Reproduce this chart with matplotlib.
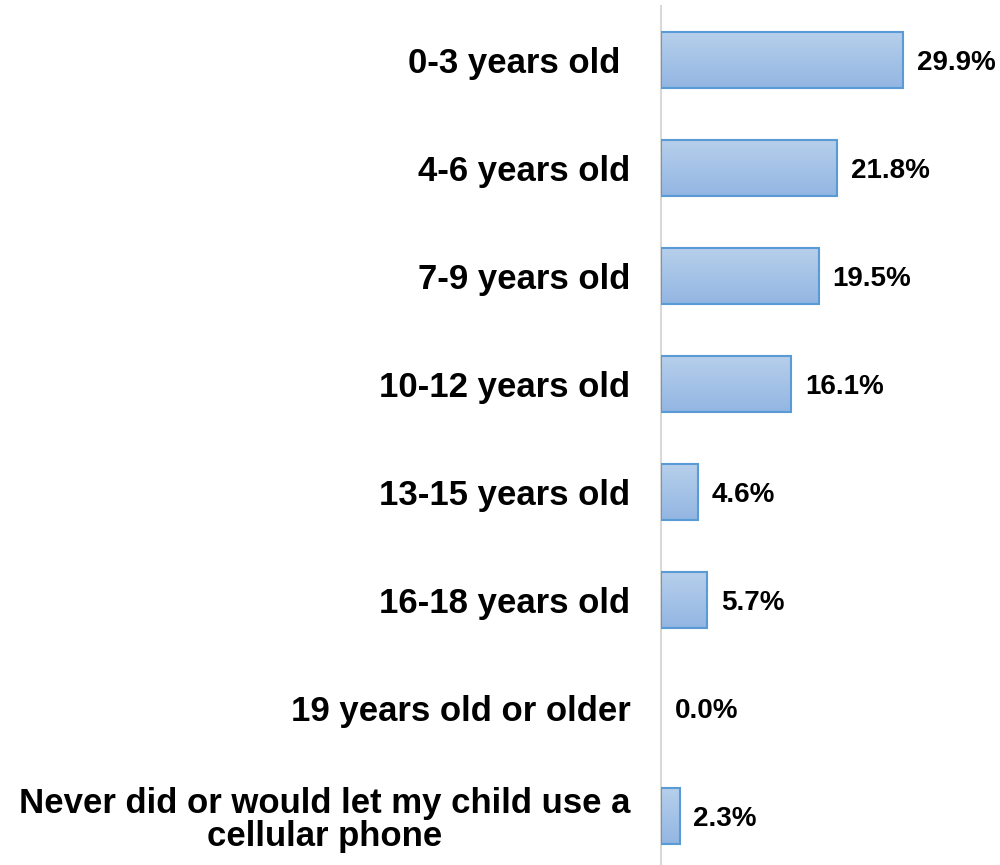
import numpy as np
import matplotlib.pyplot as plt
from matplotlib.colors import LinearSegmentedColormap

plt.rcParams['font.family'] = ['Liberation Sans', 'DejaVu Sans']

categories = [
    "0-3 years old ",
    "4-6 years old",
    "7-9 years old",
    "10-12 years old",
    "13-15 years old",
    "16-18 years old",
    "19 years old or older",
    "Never did or would let my child use a\ncellular phone",
]
values = [29.9, 21.8, 19.5, 16.1, 4.6, 5.7, 0.0, 2.3]

bar_height = 0.51
grad = LinearSegmentedColormap.from_list('barfill', ['#b6cfeb', '#93b6e2'])
gradient = np.linspace(0, 1, 64).reshape(-1, 1)

fig = plt.figure(figsize=(10, 8.65), dpi=100)
ax = fig.add_axes([0.661, -0.0058, 0.339, 864 / 865])

y = np.arange(len(categories))
for yi, v in zip(y, values):
    if v > 0:
        # vertical gradient fill, then the outline on top
        ax.imshow(gradient, cmap=grad, aspect='auto', interpolation='bicubic',
                  extent=(0, v, yi + bar_height / 2, yi - bar_height / 2),
                  zorder=2)
        ax.barh(yi, v, height=bar_height, color='none', edgecolor='#5b9bd5',
                linewidth=1.5, zorder=3)
    ax.text(v + 1.7, yi + 0.03, f"{v:.1f}%", va='center', ha='left',
            fontsize=20, fontweight='bold', color='black')

ax.set_xlim(0, 41.9)
ax.set_ylim(len(categories) - 0.5, -0.5)
ax.set_yticks(y)
ax.set_yticklabels(categories, fontsize=25, fontweight='bold',
                   multialignment='center', linespacing=1.0)
ax.tick_params(axis='y', length=0, pad=22)
ax.set_xticks([])

for side in ['top', 'right', 'bottom']:
    ax.spines[side].set_visible(False)
ax.spines['left'].set_color('#d9d9d9')
ax.spines['left'].set_linewidth(1.5)

fig.savefig('out.png', dpi=100, facecolor='white')
